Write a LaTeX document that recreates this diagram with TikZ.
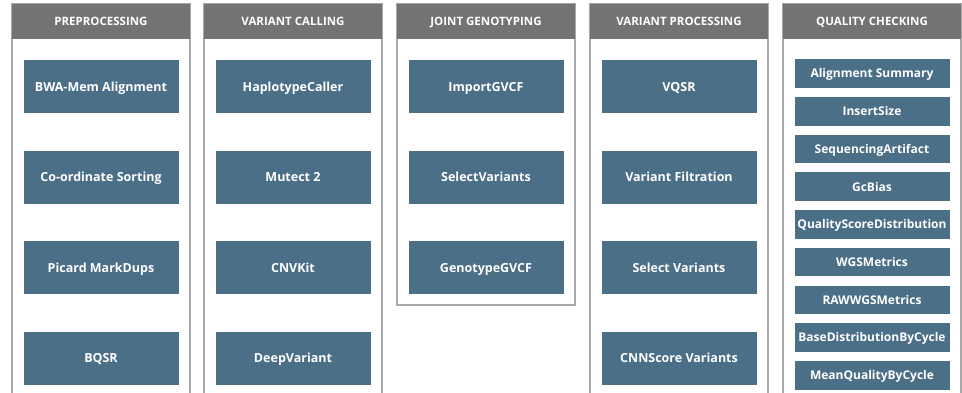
\documentclass[tikz,border=0pt]{standalone}
\usepackage{fontspec}
\setmainfont{Open Sans}
\usetikzlibrary{positioning}

\definecolor{headgray}{HTML}{737373}
\definecolor{framegray}{HTML}{A8A8A8}
\definecolor{toolblue}{HTML}{4A6F87}

\begin{document}
\begin{tikzpicture}
  [
    x=1pt, y=-1pt,
    panel/.style  = {draw=framegray, line width=1.3pt},
    header/.style = {fill=headgray, text=white, minimum width=178pt, minimum height=35pt,
                     inner sep=0pt, text height=8.2pt, text depth=0pt,
                     font=\bfseries\fontsize{11.5}{13}\selectfont},
    tool/.style   = {fill=toolblue, text=white, minimum width=155pt, minimum height=53pt,
                     inner sep=0pt, text height=8.9pt, text depth=0pt,
                     font=\bfseries\fontsize{12.5}{14}\selectfont},
    check/.style  = {tool, minimum height=28.5pt, text height=8.6pt,
                     font=\bfseries\fontsize{12}{13}\selectfont},
    node distance = 37pt,
  ]

  \useasboundingbox (0,0) rectangle (962,393);

  % the panels
  \foreach \x in {12,204,590,783}
    \draw[panel] (\x,393) -- (\x,4) -- (\x+178,4) -- (\x+178,393);
  \draw[panel] (397,4) rectangle (575,305);

  % the headers
  \node (pre)   at (101,21.5) [header] {PREPROCESSING};
  \node (call)  at (293,21.5) [header] {VARIANT CALLING};
  \node (joint) at (486,21.5) [header] {JOINT GENOTYPING};
  \node (proc)  at (679,21.5) [header] {VARIANT PROCESSING};
  \node (qual)  at (872,21.5) [header] {QUALITY CHECKING};

  % preprocessing
  \node (bwa)   [tool, below=21pt of pre] {BWA-Mem Alignment};
  \node (sort)  [tool, below=of bwa]      {Co-ordinate Sorting};
  \node (dups)  [tool, below=of sort]     {Picard MarkDups};
  \node (bqsr)  [tool, below=of dups]     {BQSR};

  % variant calling
  \node (hapc)  [tool, below=21pt of call] {HaplotypeCaller};
  \node (mut)   [tool, below=of hapc]      {Mutect 2};
  \node (cnv)   [tool, below=of mut]       {CNVKit};
  \node (deep)  [tool, below=of cnv]       {DeepVariant};

  % joint genotyping
  \node (imp)   [tool, below=21pt of joint] {ImportGVCF};
  \node (sel)   [tool, below=of imp]        {SelectVariants};
  \node (geno)  [tool, below=of sel]        {GenotypeGVCF};

  % variant processing
  \node (vqsr)  [tool, below=21pt of proc] {VQSR};
  \node (filt)  [tool, below=of vqsr]      {Variant Filtration};
  \node (selv)  [tool, below=of filt]      {Select Variants};
  \node (cnn)   [tool, below=of selv]      {CNNScore Variants};

  % quality checking
  \begin{scope}[node distance=8.8pt]
    \node (alsum) [check, below=20pt of qual] {Alignment Summary};
    \node (ins)   [check, below=of alsum]     {InsertSize};
    \node (seqa)  [check, below=of ins]       {SequencingArtifact};
    \node (gc)    [check, below=of seqa]      {GcBias};
    \node (qsd)   [check, below=of gc]        {QualityScoreDistribution};
    \node (wgs)   [check, below=of qsd]       {WGSMetrics};
    \node (raw)   [check, below=of wgs]       {RAWWGSMetrics};
    \node (base)  [check, below=of raw]       {BaseDistributionByCycle};
    \node (mean)  [check, below=of base]      {MeanQualityByCycle};
  \end{scope}

\end{tikzpicture}
\end{document}
